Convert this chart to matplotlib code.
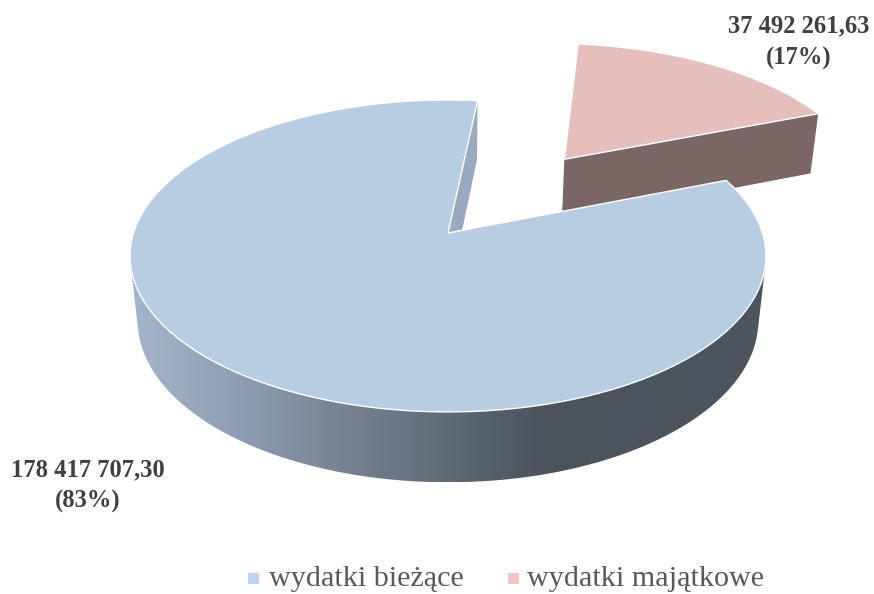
import numpy as np
import matplotlib
matplotlib.use('Agg')
import matplotlib.pyplot as plt
from matplotlib.colors import LinearSegmentedColormap
from matplotlib.patches import Polygon

plt.rcParams['font.family'] = ['Liberation Serif', 'DejaVu Serif']

# data
categories = ['wydatki bieżące', 'wydatki majątkowe']
values = [178417707.30, 37492261.63]
value_labels = ['178 417 707,30\n(83%)', '37 492 261,63\n(17%)']
explode = [0.0, 0.655]
start_angle = 68.7

# colours
top_colors = ['#b9cde2', '#e6bfbd']
wall_colors = ['#99aac0', '#7b6666']
legend_colors = ['#bcd4ee', '#f2c6c6']
side_stops = ['#a5b5ca', '#8d9cb1', '#75828f', '#5f6a76', '#4b535b', '#4d565e']
side_pos = [0.0, 0.18, 0.34, 0.5, 0.65, 1.0]

# projection of the tilted pie, in pixels
CX, CY = 448, 233
SX, SY = 314.5, 152.6
PERSP = 0.147
DROP, DEPTH = 66, 0.024


def project(u, v, bottom=False):
    if bottom:
        w = 1 + PERSP * v + DEPTH
        return CX + SX * u / w, CY - (SY * v - DROP) / w
    w = 1 + PERSP * v
    return CX + SX * u / w, CY - SY * v / w


def arc(a1, a2, off=(0, 0), bottom=False):
    t = np.radians(np.linspace(a1, a2, 300))
    return np.column_stack(project(np.sin(t) + off[0], np.cos(t) + off[1], bottom))


def hull(pts):
    pts = sorted(map(tuple, pts))

    def half(seq):
        out = []
        for p in seq:
            while len(out) > 1 and ((out[-1][0] - out[-2][0]) * (p[1] - out[-2][1])
                                    - (out[-1][1] - out[-2][1]) * (p[0] - out[-2][0])) <= 0:
                out.pop()
            out.append(p)
        return out[:-1]

    return np.array(half(pts) + half(pts[::-1]))


fig = plt.figure(figsize=(8.74, 5.94), dpi=100)
ax = fig.add_axes([0, 0, 1, 1])

# slice angles come from the values, clockwise from the top
spans = np.array(values) / sum(values) * 360
big_a1, big_a2 = start_angle, start_angle + spans[0]
small_a1, small_a2 = big_a2 - 360, big_a2 - 360 + spans[1]

# small slice, pulled out along its middle angle
mid = np.radians((small_a1 + small_a2) / 2)
off = (explode[1] * np.sin(mid), explode[1] * np.cos(mid))
p_apex = project(off[0], off[1])
p_apex_b = project(off[0], off[1], True)
end = np.radians(small_a2)
end_uv = (np.sin(end) + off[0], np.cos(end) + off[1])
ax.add_patch(Polygon([p_apex, project(*end_uv), project(*end_uv, True), p_apex_b],
                     fc=wall_colors[1], ec='none', zorder=1))
ax.add_patch(Polygon(np.vstack([[p_apex], arc(small_a1, small_a2, off)]),
                     fc=top_colors[1], ec='white', lw=1, zorder=2))

# large slice: cut wall, shaded side, then the top
t0 = np.radians(big_a2)
wall_uv = (np.sin(t0), np.cos(t0))
ax.add_patch(Polygon([project(0, 0), project(*wall_uv), project(*wall_uv, True), project(0, 0, True)],
                     fc=wall_colors[0], ec='none', zorder=3))

side = hull(np.vstack([arc(100, 260), arc(100, 260, bottom=True)]))
side_patch = Polygon(side, transform=ax.transData, fc='none', ec='none')
ax.add_patch(side_patch)
cmap = LinearSegmentedColormap.from_list('side', list(zip(side_pos, side_stops)))
im = ax.imshow(np.linspace(0, 1, 512)[None, :], cmap=cmap, aspect='auto',
               extent=(side[:, 0].min(), side[:, 0].max(), side[:, 1].max(), side[:, 1].min()),
               zorder=4)
im.set_clip_path(side_patch)

ax.add_patch(Polygon(np.vstack([[project(0, 0)], arc(big_a1, big_a2)]),
                     fc=top_colors[0], ec='white', lw=1, zorder=5))

# value labels
ax.text(88, 486, value_labels[0], ha='center', va='center', fontsize=17.7, fontweight='bold',
        color='#404040', linespacing=1.45, zorder=6)
ax.text(799, 42, value_labels[1], ha='center', va='center', fontsize=17.7, fontweight='bold',
        color='#404040', linespacing=1.5, zorder=6)

# legend
for x_box, x_text, name, col in zip([248, 508], [269, 527], categories, legend_colors):
    ax.add_patch(Polygon([(x_box, 573), (x_box + 11, 573), (x_box + 11, 584), (x_box, 584)],
                         fc=col, ec='none'))
    ax.text(x_text, 579, name, ha='left', va='center', fontsize=21.7, color='#595959')

ax.set_xlim(0, 874)
ax.set_ylim(594, 0)
ax.axis('off')

fig.savefig('out.png', dpi=100, facecolor='white')
